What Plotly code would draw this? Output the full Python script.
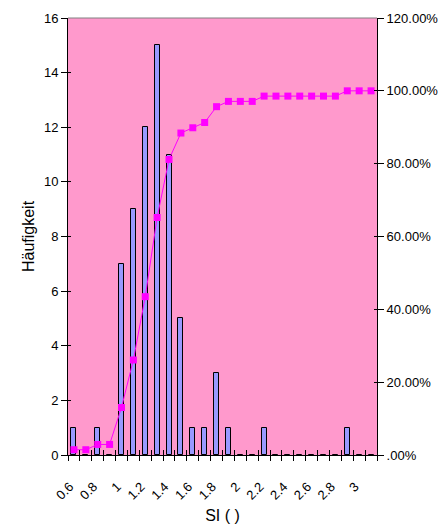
import plotly.graph_objects as go

# Data
si_bins = [0.6, 0.7, 0.8, 0.9, 1.0, 1.1, 1.2, 1.3, 1.4, 1.5, 1.6, 1.7, 1.8,
           1.9, 2.0, 2.1, 2.2, 2.3, 2.4, 2.5, 2.6, 2.7, 2.8, 2.9, 3.0, 3.1]
counts = [1, 0, 1, 0, 7, 9, 12, 15, 11, 5, 1, 1, 3,
          1, 0, 0, 1, 0, 0, 0, 0, 0, 0, 1, 0, 0]
cum_pct = [0.0145, 0.0145, 0.0290, 0.0290, 0.1304, 0.2609, 0.4348, 0.6522,
           0.8116, 0.8841, 0.8986, 0.9130, 0.9565, 0.9710, 0.9710, 0.9710,
           0.9855, 0.9855, 0.9855, 0.9855, 0.9855, 0.9855, 0.9855, 1.0, 1.0, 1.0]
x_tick_vals = [0.6, 0.8, 1.0, 1.2, 1.4, 1.6, 1.8, 2.0, 2.2, 2.4, 2.6, 2.8, 3.0]
x_tick_text = ["0.6", "0.8", "1", "1.2", "1.4", "1.6", "1.8", "2", "2.2", "2.4", "2.6", "2.8", "3"]
y2_tick_vals = [0, 0.2, 0.4, 0.6, 0.8, 1.0, 1.2]
y2_tick_text = [".00%", "20.00%", "40.00%", "60.00%", "80.00%", "100.00%", "120.00%"]

half = 0.05
boundaries = [round(v - half, 2) for v in si_bins] + [round(si_bins[-1] + half, 2)]
xr = [si_bins[0] - half, si_bins[-1] + half]
label_shift = 0.035  # rotated labels sit slightly left of the category centre
label_pos = [v - label_shift for v in x_tick_vals]

FONT = "Arial, Liberation Sans, sans-serif"

fig = go.Figure()
fig.add_trace(go.Bar(x=si_bins, y=counts, width=0.042,
                     marker=dict(color="#9999FF", line=dict(color="black", width=1)),
                     xaxis="x", yaxis="y", showlegend=False))
fig.add_trace(go.Scatter(x=si_bins, y=cum_pct, mode="lines+markers",
                         line=dict(color="#FF00FF", width=1),
                         marker=dict(symbol="square", size=7, color="#FF00FF"),
                         xaxis="x", yaxis="y2", showlegend=False))

fig.update_layout(
    width=447, height=530,
    margin=dict(l=68, r=70, t=18, b=75, autoexpand=False),
    paper_bgcolor="white", plot_bgcolor="#FF99CC",
    font=dict(family=FONT, size=13, color="black"),
    bargap=0,
    xaxis=dict(range=xr, tickmode="array", tickvals=label_pos, ticktext=x_tick_text,
               tickangle=-45, ticks="outside", ticklen=18, tickcolor="rgba(0,0,0,0)",
               showgrid=False, zeroline=False, automargin=False,
               showline=True, linecolor="black", linewidth=1,
               title=dict(text="SI ( )", font=dict(size=16), standoff=8),
               tickfont=dict(size=13)),
    xaxis2=dict(range=xr, overlaying="x", anchor="y", side="bottom", tickmode="array",
                tickvals=boundaries, ticks="outside", ticklen=5, tickcolor="black",
                showticklabels=False, showgrid=False, zeroline=False, showline=False,
                automargin=False),
    xaxis3=dict(range=xr, overlaying="x", anchor="y", side="bottom", tickmode="array",
                tickvals=boundaries, ticks="inside", ticklen=5, tickcolor="black",
                showticklabels=False, showgrid=False, zeroline=False, showline=False,
                automargin=False),
    yaxis=dict(range=[0, 16], dtick=2, tick0=0, ticks="outside", ticklen=6, tickcolor="black",
               showgrid=False, zeroline=False, showline=True, linecolor="black", linewidth=1,
               automargin=False,
               title=dict(text="Häufigkeit", font=dict(size=16), standoff=5)),
    yaxis3=dict(range=[0, 16], dtick=2, tick0=0, overlaying="y", side="left", anchor="x",
                ticks="inside", ticklen=3, tickcolor="black", showticklabels=False,
                showgrid=False, zeroline=False, showline=False, automargin=False),
    yaxis2=dict(range=[0, 1.2], overlaying="y", side="right", anchor="x", tickmode="array",
                tickvals=y2_tick_vals, ticktext=y2_tick_text, ticks="outside", ticklen=6,
                tickcolor="black", showgrid=False, zeroline=False, showline=True,
                linecolor="black", linewidth=1, automargin=False),
    yaxis4=dict(range=[0, 1.2], overlaying="y", side="right", anchor="x", tickmode="array",
                tickvals=y2_tick_vals, ticks="inside", ticklen=3, tickcolor="black",
                showticklabels=False, showgrid=False, zeroline=False, showline=False,
                automargin=False),
    shapes=[dict(type="line", xref="paper", yref="paper", x0=0, x1=1, y0=1, y1=1,
                 line=dict(color="#808080", width=1))],
)
# invisible helper traces so the overlay tick axes render
fig.add_trace(go.Scatter(x=[xr[0]], y=[0], mode="markers", marker=dict(opacity=0),
                         xaxis="x2", yaxis="y3", showlegend=False, hoverinfo="skip"))
fig.add_trace(go.Scatter(x=[xr[0]], y=[0], mode="markers", marker=dict(opacity=0),
                         xaxis="x3", yaxis="y4", showlegend=False, hoverinfo="skip"))

fig.write_html("out.html", config={"displayModeBar": False},
               post_script="document.body.style.margin='0';document.body.style.overflow='hidden';")
